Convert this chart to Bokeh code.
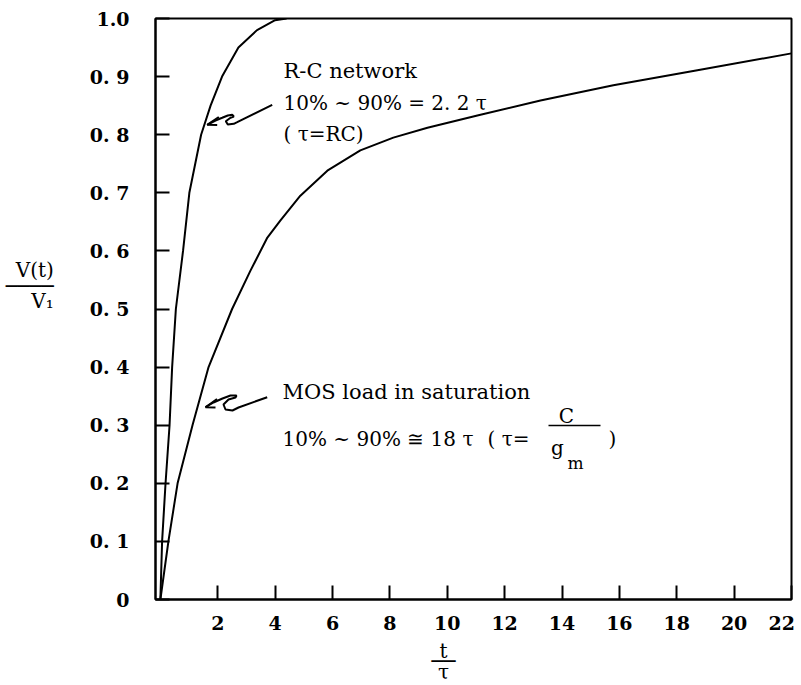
from bokeh.plotting import figure
from bokeh.models import Label, Arrow, Range1d, FixedTicker
from bokeh.embed import file_html
from bokeh.resources import INLINE

# ---- data ----
rc_t = [0, 0.06, 0.18, 0.32, 0.41, 0.54, 0.79, 1.01, 1.42, 1.75, 2.15, 2.72, 3.37, 4.0, 4.4]
rc_v = [0, 0.10, 0.20, 0.30, 0.40, 0.50, 0.60, 0.70, 0.80, 0.85, 0.90, 0.95, 0.98, 0.997, 1.0]

mos_t = [0, 0.28, 0.60, 1.12, 1.68, 2.50, 3.14, 3.73, 4.18, 4.88, 5.82, 6.97, 8.12, 9.31, 11.05, 13.25, 15.79, 18.72, 22.0]
mos_v = [0, 0.10, 0.20, 0.30, 0.40, 0.50, 0.566, 0.623, 0.652, 0.695, 0.738, 0.773, 0.795, 0.812, 0.833, 0.859, 0.885, 0.911, 0.94]

x_ticks = [2, 4, 6, 8, 10, 12, 14, 16, 18, 20, 22]
y_ticks = [0, 0.1, 0.2, 0.3, 0.4, 0.5, 0.6, 0.7, 0.8, 0.9, 1.0]
y_tick_labels = ["0", "0. 1", "0. 2", "0. 3", "0. 4", "0. 5", "0. 6", "0. 7", "0. 8", "0. 9", "1.0"]

X0, X1 = -0.17, 22.0
FL, FT, FW, FH = 155, 18, 636, 581
SX = FW / (X1 - X0)


def dx(px):
    return X0 + (px - FL) / SX


def dy(py):
    return (FT + FH - py) / FH


FONT = "DejaVu Serif"
EM = "\u2003"
RULE = "\u2500"

p = figure(frame_width=FW, frame_height=FH,
           x_range=Range1d(X0, X1), y_range=Range1d(0, 1),
           output_backend="svg", toolbar_location=None,
           min_border_left=FL, min_border_right=10,
           min_border_top=FT, min_border_bottom=86)
p.xgrid.visible = False
p.ygrid.visible = False
p.outline_line_color = "black"
p.outline_line_width = 2
p.outline_line_alpha = 1.0
p.background_fill_color = "white"
p.border_fill_color = "white"

xa = p.xaxis[0]
xa.ticker = FixedTicker(ticks=x_ticks)
xa.major_tick_in = 14
xa.major_tick_out = 0
xa.minor_tick_in = 0
xa.minor_tick_out = 0
xa.axis_line_width = 2
xa.major_tick_line_width = 2
xa.major_label_text_font = FONT
xa.major_label_text_font_size = "19px"
xa.major_label_text_font_style = "bold"
xa.major_label_text_color = "black"
xa.major_label_standoff = 12
xa.major_label_overrides = {22: "22\u00a0"}
xa.axis_label = "t" + EM * 3 + "\n" + RULE * 2 + EM * 3 + "\n" + "τ" + EM * 3
xa.axis_label_text_font = FONT
xa.axis_label_text_font_size = "20px"
xa.axis_label_text_font_style = "normal"
xa.axis_label_text_color = "black"
xa.axis_label_text_line_height = 0.45
xa.axis_label_standoff = 2

ya = p.yaxis[0]
ya.ticker = FixedTicker(ticks=y_ticks)
ya.major_tick_in = 14
ya.major_tick_out = 0
ya.minor_tick_in = 0
ya.minor_tick_out = 0
ya.axis_line_width = 2
ya.major_tick_line_width = 2
ya.major_label_text_font = FONT
ya.major_label_text_font_size = "19px"
ya.major_label_text_font_style = "bold"
ya.major_label_text_color = "black"
ya.major_label_standoff = 26
ya.major_label_overrides = {t: s for t, s in zip(y_ticks, y_tick_labels)}
ya.axis_label = "V(t)\n" + RULE * 4 + "\nV\u2081\n" + EM + "\n" + EM + "\n" + EM
ya.axis_label_orientation = "horizontal"
ya.axis_label_text_font = FONT
ya.axis_label_text_font_size = "20px"
ya.axis_label_text_font_style = "normal"
ya.axis_label_text_color = "black"
ya.axis_label_text_line_height = 0.65
ya.axis_label_standoff = 33

# curves
p.line(rc_t, rc_v, line_color="black", line_width=2)
p.line(mos_t, mos_v, line_color="black", line_width=2)


def lab(text, px, py, size="20px", align="left", baseline="alphabetic"):
    p.add_layout(Label(x=dx(px), y=dy(py), text=text, text_font=FONT,
                       text_font_size=size, text_align=align,
                       text_baseline=baseline, text_color="black"))


def hline(px0, px1, py, w=1.6):
    p.add_layout(Arrow(end=None, x_start=dx(px0), y_start=dy(py),
                       x_end=dx(px1), y_end=dy(py),
                       line_color="black", line_width=w))


# annotation texts
lab("R-C network", 283, 70, size="21px")
lab("10% ~ 90% = 2. 2 τ", 283, 102)
lab("( τ=RC)", 283, 133)

lab("MOS load in saturation", 282, 391, size="21px")
lab("10% ~ 90% ≅ 18 τ", 282, 438)
lab("( τ=", 487, 438)
lab("C", 566, 415, align="center")
hline(548, 600, 425)
lab("g", 557, 447, align="center")
lab("m", 575, 462, size="17px", align="center")
lab(")", 608, 438)

# squiggle pointers
rc_arrow_px = [(271.7, 104.3), (236.7, 121.7), (233.3, 123.3), (227.3, 124), (225.3, 120.7),
               (230, 117.3), (233.3, 116), (231.7, 114.3), (227.3, 115), (221.7, 117.3),
               (215, 120), (206.7, 124.3)]
rc_head_px = [(218.3, 116.5), (206.7, 124.3), (216.7, 124.5)]
mos_arrow_px = [(266.7, 396.7), (238, 407), (232, 410), (225, 409), (223, 404), (228, 399),
                (235, 397), (236, 395), (230, 395), (222, 398), (213, 402), (205, 406.7)]
mos_head_px = [(216.5, 398.5), (205, 406.7), (215, 407)]
for path in (rc_arrow_px, rc_head_px, mos_arrow_px, mos_head_px):
    p.line([dx(a) for a, b in path], [dy(b) for a, b in path],
           line_color="black", line_width=2)

open("out.html", "w").write(file_html(p, INLINE))
